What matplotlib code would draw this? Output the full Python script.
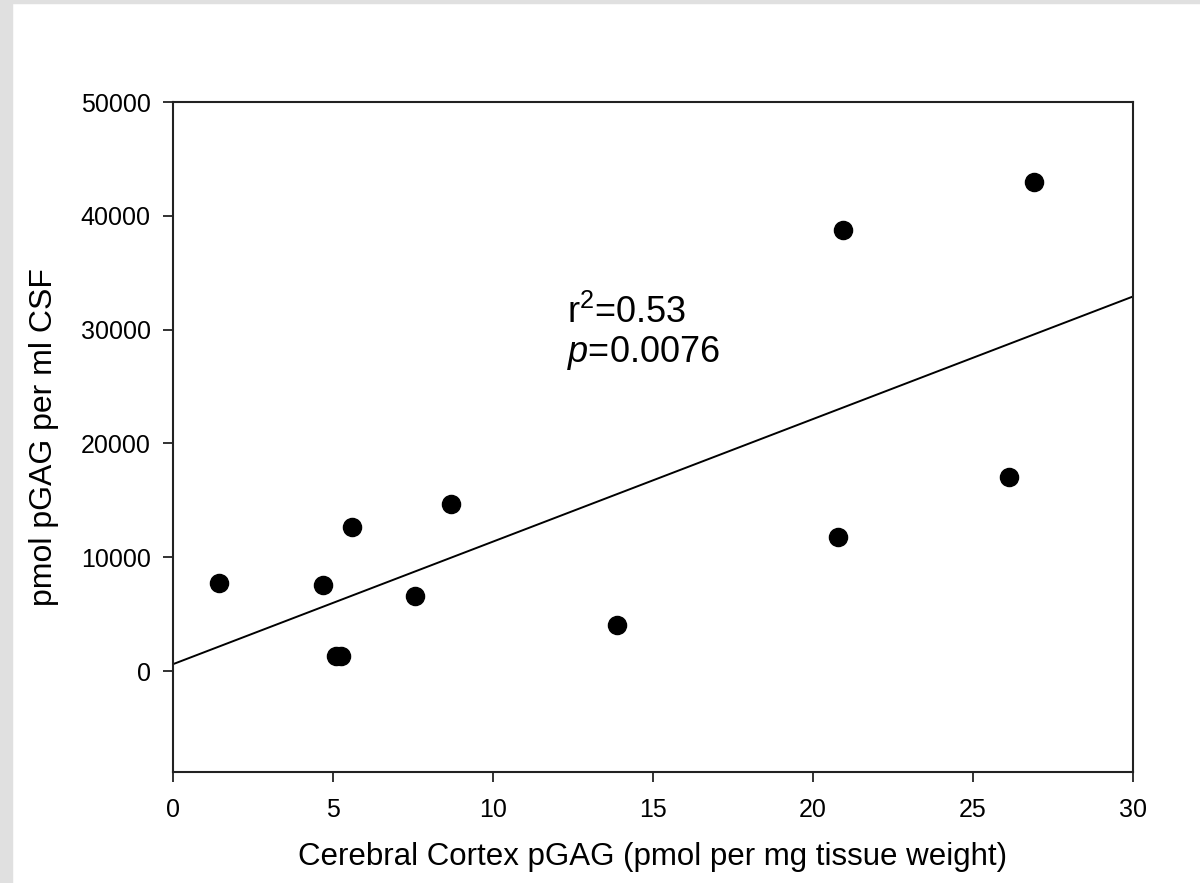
import numpy as np
import matplotlib
matplotlib.use("Agg")
import matplotlib.pyplot as plt
from matplotlib.patches import Rectangle

plt.rcParams['font.family'] = ['Liberation Sans', 'DejaVu Sans']
plt.rcParams['mathtext.fontset'] = 'custom'
plt.rcParams['mathtext.rm'] = 'Liberation Sans'
plt.rcParams['mathtext.it'] = 'Liberation Sans:italic'

# cortex pGAG (pmol/mg) vs CSF pGAG (pmol/ml)
cortex = [1.45, 4.69, 5.58, 5.09, 5.25, 7.56, 8.68, 13.87, 20.78, 20.95, 26.13, 26.9]
csf = [7710, 7530, 12625, 1300, 1300, 6570, 14680, 4080, 11780, 38760, 17080, 42950]

# fitted line
fit_intercept = 600
fit_slope = 1077
r2_text = "r$^{2}$=0.53"
p_text = "$\\mathit{p}$=0.0076"

fig = plt.figure(figsize=(12, 8.83), dpi=100)
# grey page edges
fig.patches.append(Rectangle((0, 0), 12 / 1200, 1, transform=fig.transFigure,
                             color='#e0e0e0', zorder=0))
fig.patches.append(Rectangle((0, 1 - 3 / 883), 1, 3 / 883, transform=fig.transFigure,
                             color='#e0e0e0', zorder=0))

ax = fig.add_axes([173 / 1200, 111 / 883, 960 / 1200, 670 / 883])

xs = np.array([0, 30])
ax.plot(xs, fit_intercept + fit_slope * xs, color='black', lw=1.4)
ax.scatter(cortex, csf, s=170, color='black', zorder=3, clip_on=False)

ax.set_xlim(0, 30)
ax.set_ylim(-8875, 50000)
ax.set_xticks([0, 5, 10, 15, 20, 25, 30])
ax.set_yticks([0, 10000, 20000, 30000, 40000, 50000])
ax.tick_params(direction='out', length=7, width=1.3, labelsize=18, pad=9, color='#222222')
ax.tick_params(axis='x', pad=12)
for s in ax.spines.values():
    s.set_linewidth(1.5)
    s.set_color('#222222')

ax.set_xlabel("Cerebral Cortex pGAG (pmol per mg tissue weight)", fontsize=22.5, labelpad=14)
ax.set_ylabel("pmol pGAG per ml CSF", fontsize=23, labelpad=16)

ax.text(12.31, 30600, r2_text, fontsize=26, ha='left', va='baseline')
ax.text(12.31, 27170, p_text, fontsize=26, ha='left', va='baseline')

fig.savefig("out.png", dpi=100)
